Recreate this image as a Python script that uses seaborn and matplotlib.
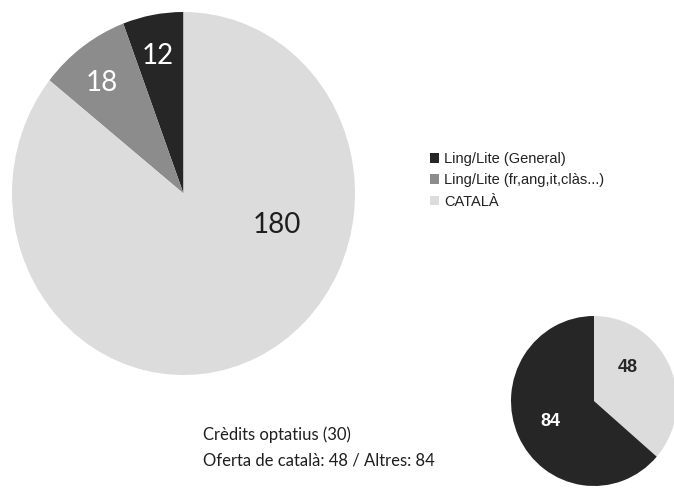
import matplotlib
matplotlib.use("Agg")
import matplotlib.pyplot as plt
import seaborn as sns

# ---- data ----
big_labels = ["Ling/Lite (General)", "Ling/Lite (fr,ang,it,clàs...)", "CATALÀ"]
big_values = [12, 18, 180]
small_labels = ["CATALÀ", "Altres"]
small_values = [48, 84]
note_lines = ["Crèdits optatius (30)", "Oferta de català: 48 / Altres: 84"]

sns.set_theme(style="white")
plt.rcParams["font.family"] = ["Lato", "DejaVu Sans"]

greys = {"dark": "#262626", "mid": "#8c8c8c", "light": "#dcdcdc"}
big_colors = [greys["dark"], greys["mid"], greys["light"]]
small_colors = [greys["light"], greys["dark"]]

W, H = 674, 488
fig = plt.figure(figsize=(W / 100, H / 100), dpi=100)
fig.patch.set_facecolor("white")

def px_axes(cx, cy, rx, ry):
    return fig.add_axes([(cx - rx) / W, 1 - (cy + ry) / H, 2 * rx / W, 2 * ry / H])

# big pie
ax1 = px_axes(183.5, 193.5, 171.5, 181.5)
wedges, _ = ax1.pie(big_values, colors=big_colors, startangle=90, counterclock=True,
                    radius=1, wedgeprops=dict(linewidth=0))
ax1.set_xlim(-1, 1); ax1.set_ylim(-1, 1); ax1.set_aspect("auto"); ax1.axis("off")
big_label_pos = [(158, 56, "white"), (102, 83, "white"), (277, 225, "#1e1e1e")]
for v, (x, y, c) in zip(big_values, big_label_pos):
    fig.text(x / W, 1 - y / H, str(v), color=c, fontsize=20, ha="center", va="center")

# small pie
ax2 = px_axes(594, 401, 83, 85)
ax2.pie(small_values, colors=small_colors, startangle=90, counterclock=False,
        radius=1, wedgeprops=dict(linewidth=0))
ax2.set_xlim(-1, 1); ax2.set_ylim(-1, 1); ax2.set_aspect("auto"); ax2.axis("off")
small_label_pos = [(628, 367, "#262626"), (550, 421, "white")]
for v, (x, y, c) in zip(small_values, small_label_pos):
    fig.text(x / W, 1 - y / H, str(v), color=c, fontsize=13, ha="center", va="center",
             family=["Liberation Sans", "DejaVu Sans"], fontweight="bold")

# legend
fig.legend(wedges, big_labels, loc="upper left", bbox_to_anchor=(430 / W, 1 - 152 / H),
           frameon=False, handlelength=0.65, handleheight=0.65,
           handletextpad=0.3, labelspacing=0.5, borderpad=0, borderaxespad=0,
           prop=dict(family=["Liberation Sans", "DejaVu Sans"], size=10.5),
           labelcolor="#222222")

# note
for i, line in enumerate(note_lines):
    fig.text(203 / W, 1 - (435 + 26 * i) / H, line, fontsize=12, color="#1e1e1e",
             ha="left", va="center")

fig.savefig("out.png", dpi=100, facecolor="white")
